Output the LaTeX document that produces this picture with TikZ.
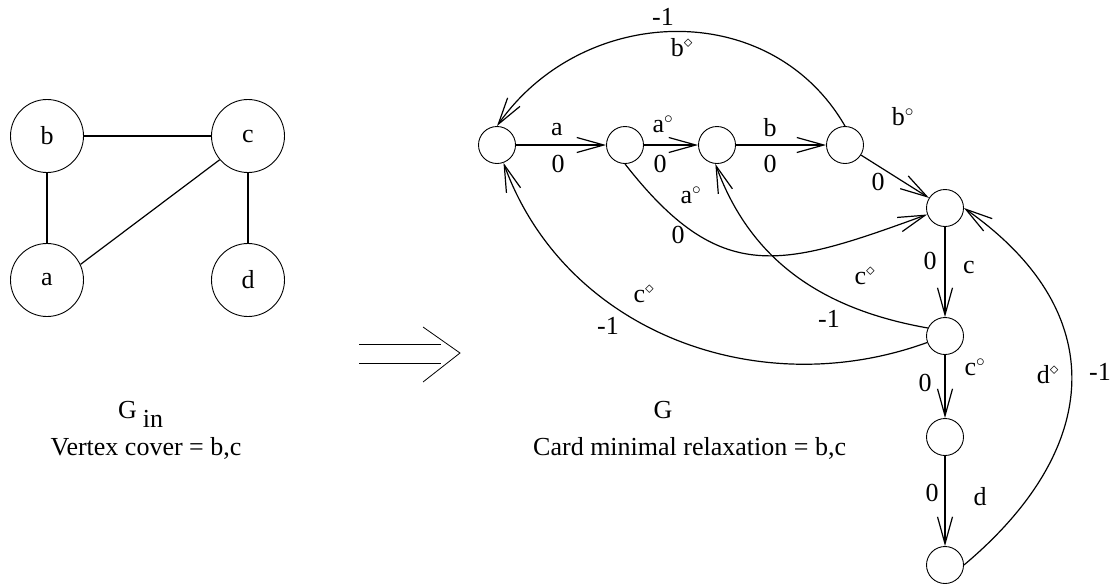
\documentclass[tikz,border=0pt]{standalone}
\usepackage{fontspec}
\setmainfont{Liberation Serif}
\usetikzlibrary{arrows.meta,positioning}
\newcommand{\lbfont}{\fontsize{26}{30}\selectfont}

\begin{document}
\begin{tikzpicture}[x=1pt, y=-1pt,
    gnode/.style={circle, draw, line width=0.9pt, minimum size=73pt, inner sep=0pt, font=\lbfont},
    snode/.style={circle, draw, line width=0.9pt, minimum size=37pt, inner sep=0pt},
    lbl/.style={font=\lbfont, inner sep=0pt},
    gedge/.style={line width=1.2pt},
    sarc/.style={line width=1.2pt, -{Straight Barb[length=27pt, width=15pt]}}
]
\useasboundingbox (0,0) rectangle (1113,584);

% Input graph
\node[gnode] (b) at (47,136) {b};
\node[gnode] (c) at (248,136) {c};
\node[gnode] (a) at (47,280) {a};
\node[gnode] (d) at (248,280) {d};
\draw[gedge] (b) -- (c);
\draw[gedge] (b) -- (a);
\draw[gedge] (c) -- (d);
\draw[gedge] (a.25) -- (c.220);
\node[lbl, anchor=base west] (gin) at (118,418) {G\hspace{6pt}\raisebox{-9pt}{in}};
\node[lbl, anchor=base] (vc) at (146,455) {Vertex cover = b,c};

% Transformation arrow
\draw[line width=0.8pt] (359,344) -- (441,344);
\draw[line width=0.8pt] (359,363) -- (441,363);
\draw[line width=0.8pt] (423,327) -- (460,353) -- (423,382);

% Relaxation graph
\node[snode] (n1) at (497,145) {};
\node[snode] (n2) at (625,145) {};
\node[snode] (n3) at (717,145) {};
\node[snode] (n4) at (845,145) {};
\node[snode] (n5) at (945,208) {};
\node[snode] (n6) at (945,336) {};
\node[snode] (n7) at (945,437) {};
\node[snode] (n8) at (945,565) {};

\draw[sarc] (n1) -- (n2);
\draw[sarc] (n2) -- (n3);
\draw[sarc] (n3) -- (n4);
\draw[sarc] (n4) -- (n5);
\draw[sarc] (n5) -- (n6);
\draw[sarc] (n6) -- (n7);
\draw[sarc] (n7) -- (n8);
\draw[sarc] (n4.north) to[out=120, in=55, looseness=1.1] (n1.north);
\draw[sarc] (n2.south) to[out=-52, in=200, looseness=1.3] (n5.200);
\draw[sarc] (n6.155) to[out=170, in=-70] (n3.-95);
\draw[sarc] (n6.200) to[out=200, in=-70] (n1.-70);
\draw[sarc] (n8.east) to[out=40, in=-35, looseness=1.3] (n5.east);

% Edge labels
\node[lbl] (l1) at (557,130) {a};
\node[lbl] (w1) at (558,164) {0};
\node[lbl] (l2) at (663,124) {a$^{\circ}$};
\node[lbl] (w2) at (660,164) {0};
\node[lbl] (l3) at (770,128) {b};
\node[lbl] (w3) at (770,164) {0};
\node[lbl] (l4) at (903,117) {b$^{\circ}$};
\node[lbl] (w4) at (878,182) {0};
\node[lbl] (l5) at (682,48) {b$^{\diamond}$};
\node[lbl] (w5) at (663,17) {-1};
\node[lbl] (l6) at (691,195) {a$^{\circ}$};
\node[lbl] (w6) at (678,235) {0};
\node[lbl] (l7) at (865,276) {c$^{\diamond}$};
\node[lbl] (w7) at (829,319) {-1};
\node[lbl] (l8) at (644,294) {c$^{\diamond}$};
\node[lbl] (w8) at (608,326) {-1};
\node[lbl] (l9) at (969,267) {c};
\node[lbl] (w9) at (930,261) {0};
\node[lbl] (l10) at (975,367) {c$^{\circ}$};
\node[lbl] (w10) at (925,383) {0};
\node[lbl] (l11) at (980,497) {d};
\node[lbl] (w11) at (932,493) {0};
\node[lbl] (l12) at (1048,375) {d$^{\diamond}$};
\node[lbl] (w12) at (1100,372) {-1};

% Captions
\node[lbl, anchor=base] (gout) at (663,418) {G};
\node[lbl, anchor=base west] (cmr) at (533,455) {Card minimal relaxation = b,c};
\end{tikzpicture}
\end{document}
